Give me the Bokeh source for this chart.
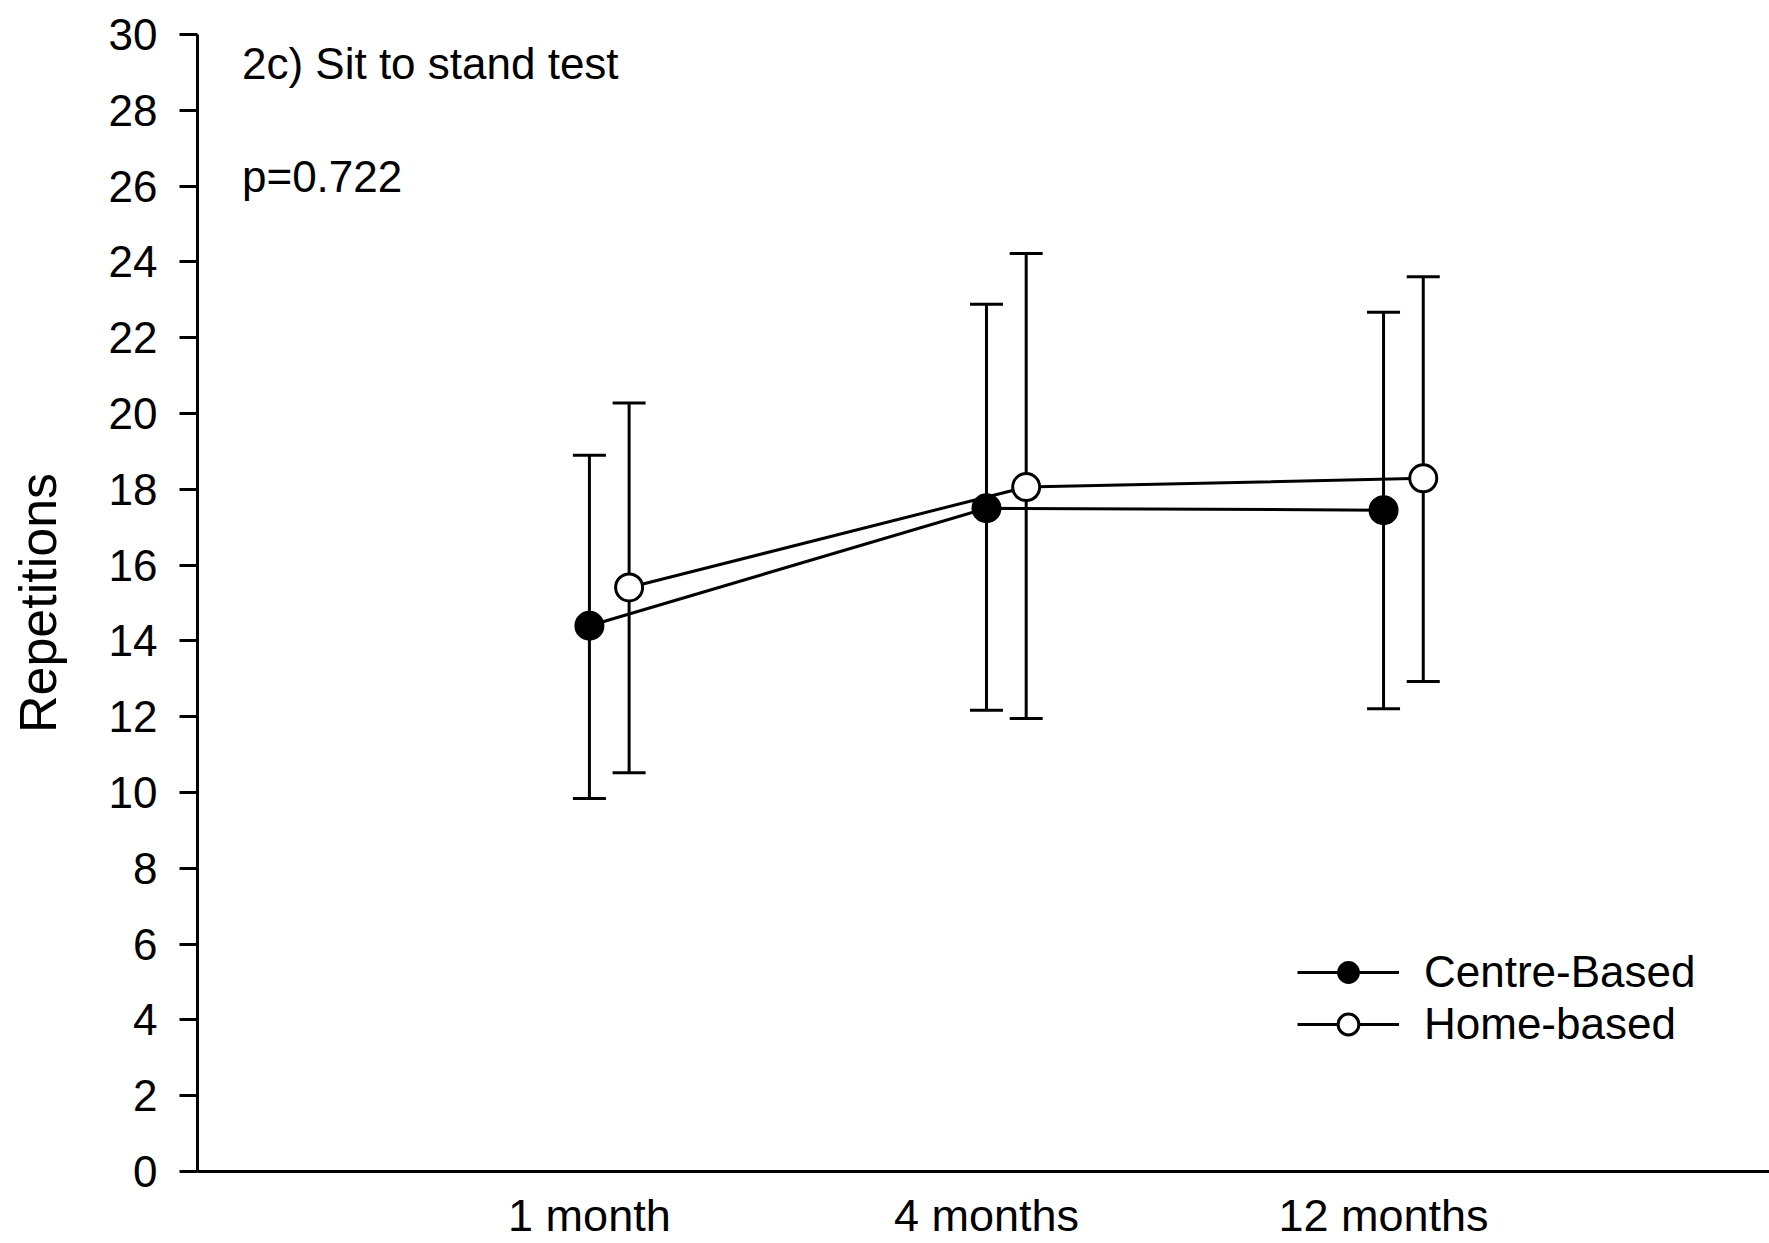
from bokeh.plotting import figure
from bokeh.models import (ColumnDataSource, Whisker, TeeHead, Label, Legend,
                          LegendItem, FixedTicker, Range1d)
from bokeh.embed import file_html
from bokeh.resources import INLINE

# ---- data ----
categories = ["1 month", "4 months", "12 months"]
series_names = ["Centre-Based", "Home-based"]
centre_mean = [14.4, 17.5, 17.45]
centre_upper = [18.9, 22.88, 22.67]
centre_lower = [9.84, 12.17, 12.21]
home_mean = [15.41, 18.06, 18.29]
home_upper = [20.28, 24.22, 23.61]
home_lower = [10.52, 11.95, 12.93]
y_ticks = list(range(0, 31, 2))
panel_title = "2c) Sit to stand test"
p_value_text = "p=0.722"
y_label = "Repetitions"

FONT = "Liberation Sans"
x_pos = [i + 1 for i in range(len(categories))]
dodge = 0.1
home_x = [x + dodge for x in x_pos]

p = figure(width=1769, height=1243, output_backend="svg", toolbar_location=None,
           x_range=Range1d(0.013, 3.972), y_range=Range1d(0, 30),
           min_border_left=197, min_border_top=34, min_border_right=0,
           min_border_bottom=69,
           background_fill_color="white", border_fill_color="white")
p.outline_line_color = None
p.grid.visible = False

# y axis
ya = p.yaxis[0]
ya.ticker = FixedTicker(ticks=y_ticks)
ya.axis_line_width = 3
ya.axis_line_color = "black"
ya.major_tick_line_width = 3
ya.major_tick_line_color = "black"
ya.major_tick_out = 18
ya.major_tick_in = 0
ya.minor_tick_line_color = None
ya.major_label_text_font = FONT
ya.major_label_text_font_size = "44px"
ya.major_label_text_color = "black"
ya.major_label_standoff = 22
ya.axis_label = y_label
ya.axis_label_text_font = FONT
ya.axis_label_text_font_size = "52px"
ya.axis_label_text_font_style = "normal"
ya.axis_label_text_color = "black"
ya.axis_label_standoff = 39

# x axis
xa = p.xaxis[0]
xa.ticker = FixedTicker(ticks=x_pos)
xa.major_label_overrides = {x: c for x, c in zip(x_pos, categories)}
xa.axis_line_width = 3
xa.axis_line_color = "black"
xa.major_tick_line_color = None
xa.minor_tick_line_color = None
xa.major_tick_out = 0
xa.major_tick_in = 0
xa.major_label_text_font = FONT
xa.major_label_text_font_size = "45px"
xa.major_label_text_color = "black"
xa.major_label_standoff = 18

src_c = ColumnDataSource(dict(x=x_pos, mean=centre_mean, upper=centre_upper, lower=centre_lower))
src_h = ColumnDataSource(dict(x=home_x, mean=home_mean, upper=home_upper, lower=home_lower))

for src in (src_c, src_h):
    w = Whisker(source=src, base="x", upper="upper", lower="lower", dimension="height",
                line_width=3, line_color="black", level="underlay",
                upper_head=TeeHead(size=33, line_width=3, line_color="black"),
                lower_head=TeeHead(size=33, line_width=3, line_color="black"))
    p.add_layout(w)

lc = p.line("x", "mean", source=src_c, line_width=3, line_color="black")
lh = p.line("x", "mean", source=src_h, line_width=3, line_color="black")
sc = p.scatter("x", "mean", source=src_c, size=28, fill_color="black",
               line_color="black", line_width=2)
sh = p.scatter("x", "mean", source=src_h, size=27, fill_color="white",
               line_color="black", line_width=3)

legend = Legend(items=[LegendItem(label=series_names[0], renderers=[lc, sc]),
                       LegendItem(label=series_names[1], renderers=[lh, sh])],
                location=(1100, 121), orientation="vertical",
                glyph_width=102, glyph_height=52, label_height=52,
                label_standoff=25, spacing=0, padding=0, margin=0,
                border_line_color=None, background_fill_alpha=0,
                label_text_font=FONT, label_text_font_size="44px",
                label_text_color="black")
p.add_layout(legend)

p.add_layout(Label(x=0.125, y=29.24, text=panel_title, text_font=FONT,
                   text_font_size="44px", text_baseline="alphabetic",
                   text_color="black"))
p.add_layout(Label(x=0.125, y=26.26, text=p_value_text, text_font=FONT,
                   text_font_size="44px", text_baseline="alphabetic",
                   text_color="black"))

open("out.html", "w").write(file_html(p, INLINE, title="Sit to stand test"))
